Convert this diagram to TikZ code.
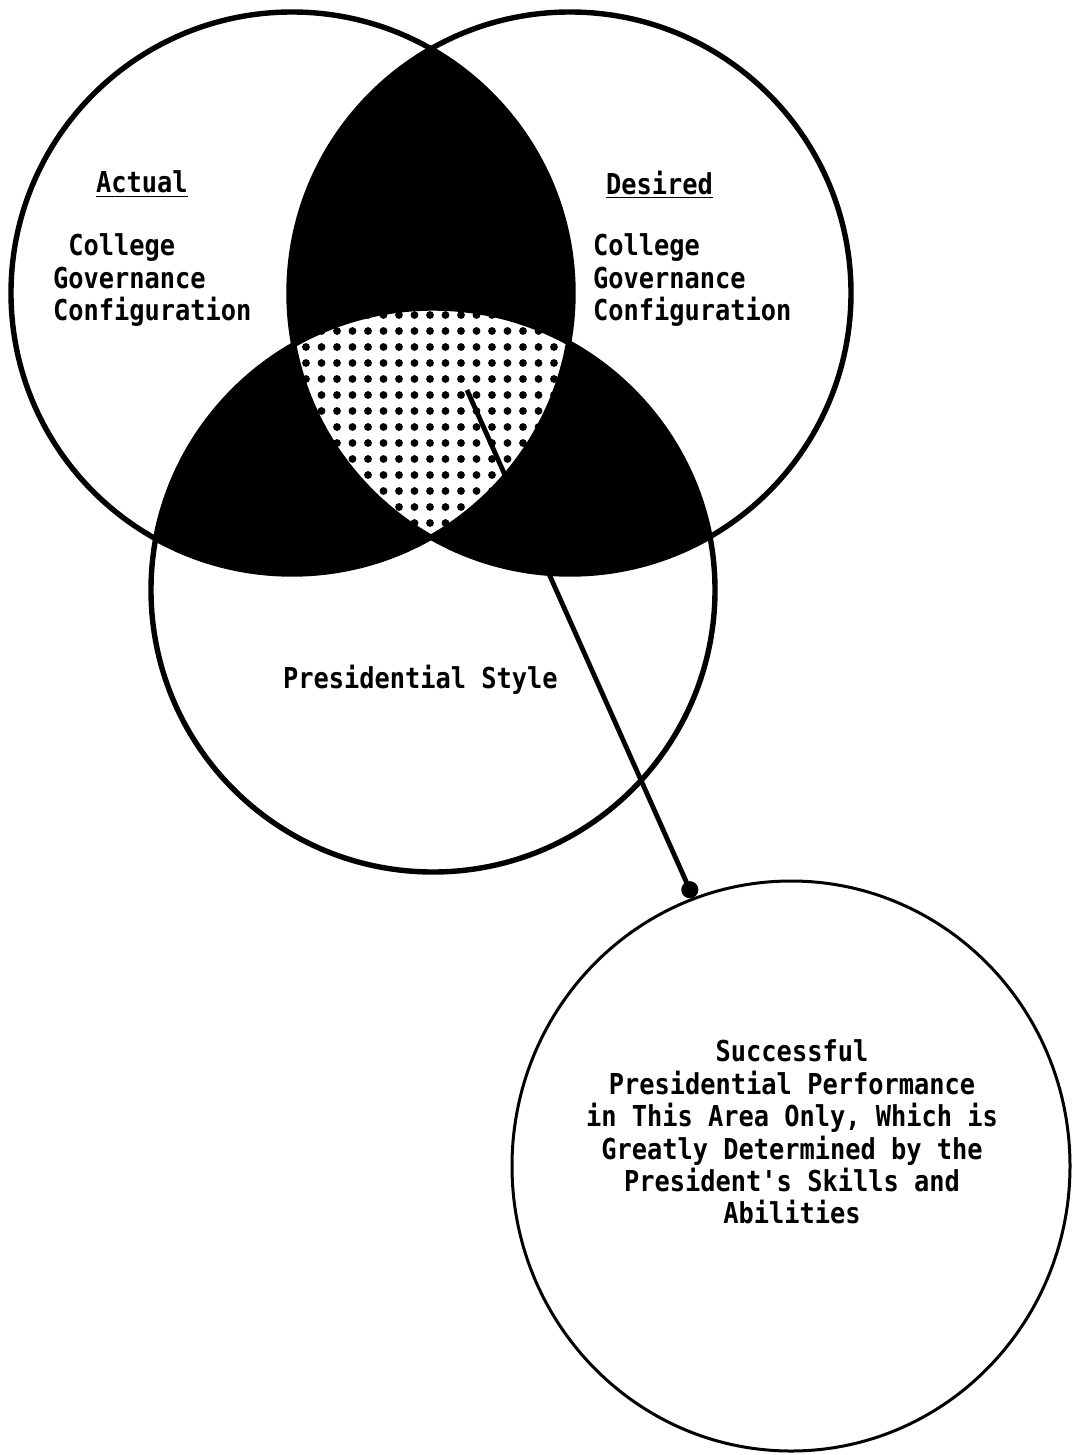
\documentclass[tikz,border=0pt]{standalone}
\usepackage{fontspec}
\setmonofont[FakeStretch=0.88]{DejaVu Sans Mono}
\usetikzlibrary{arrows.meta,shapes.geometric}

\begin{document}
\begin{tikzpicture}[x=0.5pt,y=0.5pt,
  ring/.style={line width=2.7pt},
  txt/.style={font=\ttfamily\bfseries\fontsize{14.4}{16.2}\selectfont, inner sep=0pt, outer sep=0pt},
  screendot/.style={fill=black},
  leader/.style={line width=2.4pt, -{Circle[length=8.5pt,width=8.5pt]}}]
\useasboundingbox (0,0) rectangle (1078,-1455);
\fill[white] (0,0) rectangle (1078,-1455);

% centres of the three overlapping circles
\coordinate (cA) at (292,-293);
\coordinate (cB) at (570,-293);
\coordinate (cC) at (433,-590);

% pairwise overlaps, solid black
\begin{scope}
  \clip (cA) circle (281);
  \fill (cB) circle (281);
  \fill (cC) circle (282);
\end{scope}
\begin{scope}
  \clip (cB) circle (281);
  \fill (cC) circle (282);
\end{scope}

% common area of all three: white with a dot screen
\begin{scope}
  \clip (cA) circle (281);
  \clip (cB) circle (281);
  \clip (cC) circle (282);
  \fill[white] (200,-250) rectangle (700,-620);
  \foreach \i in {0,...,19}{
    \foreach \j in {0,...,16}{
      \fill[screendot] ({290.5+15.5*\i},{-(299+16*\j)}) circle (3.9);
    }
  }
\end{scope}

% circle outlines
\draw[ring] (cA) circle (281);
\draw[ring] (cB) circle (281);
\draw[ring] (cC) circle (282);

% labels of the three circles
\node[txt, anchor=north west] (actual) at (96,-171) {\underline{Actual}};
\node[txt, anchor=north west, align=left] (actualcfg) at (53,-234)
  {~College\\Governance\\Configuration};
\node[txt, anchor=north west] (desired) at (606,-171) {\underline{Desired}};
\node[txt, anchor=north west, align=left] (desiredcfg) at (593,-234)
  {College\\Governance\\Configuration};
\node[txt, anchor=base west] (style) at (283,-688) {Presidential Style};

% outcome circle
\node[draw, ellipse, line width=1.5pt, inner sep=0pt,
      minimum width=279pt, minimum height=285pt] (D) at (791,-1166) {};
\node[txt, anchor=north, align=center] (Dtext) at (792,-1040)
  {Successful\\Presidential Performance\\in This Area Only, Which is\\
   Greatly Determined by the\\President's Skills and\\Abilities};

% leader from the common area to the outcome circle
\coordinate (src) at (467,-390);
\draw[leader] (src) -- (D.110);
\end{tikzpicture}
\end{document}
